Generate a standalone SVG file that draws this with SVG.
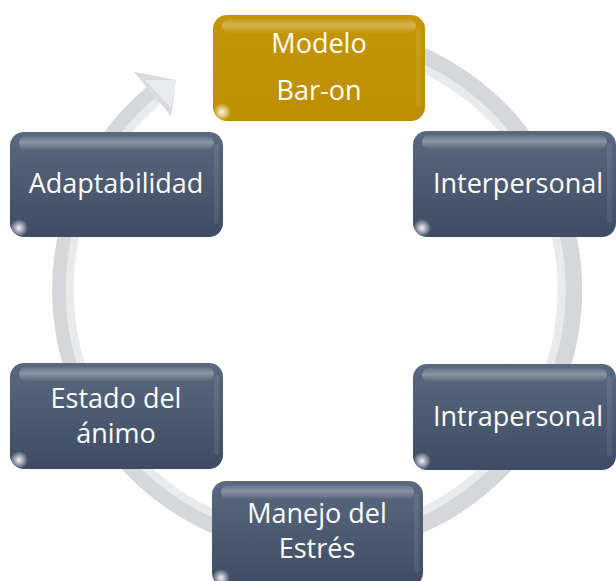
<svg xmlns="http://www.w3.org/2000/svg" width="616" height="581" viewBox="0 0 616 581">
<style>
.lbl{font-family:"Open Sans","Liberation Sans",sans-serif;font-size:27px;fill:#ffffff;text-anchor:middle}
.base{fill:url(#gBlue)}
.gold{fill:url(#gGold)}
.gloss{fill:url(#gGloss)}
.edge{fill:#ffffff;opacity:0.08}
.shine{fill:url(#gShine)}
.ring{fill:none;stroke:#d6d7da;stroke-width:20}
.ringhi{fill:none;stroke:#e9eaec;stroke-width:8}
</style>
<defs>
<linearGradient id="gBlue" x1="0" y1="0" x2="0" y2="1">
<stop offset="0" stop-color="#5a697f"/>
<stop offset="1" stop-color="#3d4c64"/>
</linearGradient>
<linearGradient id="gGold" x1="0" y1="0" x2="0" y2="1">
<stop offset="0" stop-color="#c59506"/>
<stop offset="1" stop-color="#bd8f00"/>
</linearGradient>
<linearGradient id="gGloss" x1="0" y1="0" x2="0" y2="1">
<stop offset="0" stop-color="#ffffff" stop-opacity="0.06"/>
<stop offset="0.45" stop-color="#ffffff" stop-opacity="0.30"/>
<stop offset="1" stop-color="#ffffff" stop-opacity="0.03"/>
</linearGradient>
<radialGradient id="gShine" cx="0.5" cy="0.5" r="0.5">
<stop offset="0" stop-color="#ffffff" stop-opacity="0.95"/>
<stop offset="1" stop-color="#ffffff" stop-opacity="0"/>
</radialGradient>
</defs>
<g id="connectors">
<path class="ring" d="M339.2 35.9 A255 255 0 1 1 153.1 94.7"/>
<path class="ringhi" d="M339.2 44.9 A246 246 0 1 1 157.2 101.6"/>
<polygon points="133.8,71.7 176,80 171.1,116.1" fill="#d9dade"/>
<polygon points="145,80 176,80 171,108" fill="#eaebed"/>
</g>
<g id="node-modelo">
<rect class="gold" x="213" y="15" width="212" height="106" rx="14"/>
<rect class="gloss" x="222" y="19" width="194" height="14" rx="7"/>
<rect class="edge" x="416" y="27" width="5" height="80" rx="2.5"/>
<ellipse class="shine" cx="222" cy="112" rx="9" ry="9"/>
<text class="lbl" x="319" y="53">Modelo</text>
<text class="lbl" x="319" y="100">Bar-on</text>
</g>
<g id="node-interpersonal">
<rect class="base" x="413" y="131" width="203" height="106" rx="14"/>
<rect class="gloss" x="422" y="135" width="185" height="14" rx="7"/>
<rect class="edge" x="607" y="143" width="5" height="80" rx="2.5"/>
<ellipse class="shine" cx="422" cy="228" rx="9" ry="9"/>
<text class="lbl" x="518" y="193">Interpersonal</text>
</g>
<g id="node-intrapersonal">
<rect class="base" x="413" y="364" width="203" height="106" rx="14"/>
<rect class="gloss" x="422" y="368" width="185" height="14" rx="7"/>
<rect class="edge" x="607" y="376" width="5" height="80" rx="2.5"/>
<ellipse class="shine" cx="422" cy="461" rx="9" ry="9"/>
<text class="lbl" x="518" y="426">Intrapersonal</text>
</g>
<g id="node-manejo">
<rect class="base" x="212" y="481" width="211" height="106" rx="14"/>
<rect class="gloss" x="221" y="485" width="193" height="14" rx="7"/>
<rect class="edge" x="414" y="493" width="5" height="80" rx="2.5"/>
<ellipse class="shine" cx="221" cy="578" rx="9" ry="9"/>
<text class="lbl" x="317" y="523">Manejo del</text>
<text class="lbl" x="317" y="558">Estrés</text>
</g>
<g id="node-estado">
<rect class="base" x="10" y="363" width="213" height="106" rx="14"/>
<rect class="gloss" x="19" y="367" width="195" height="14" rx="7"/>
<rect class="edge" x="214" y="375" width="5" height="80" rx="2.5"/>
<ellipse class="shine" cx="19" cy="460" rx="9" ry="9"/>
<text class="lbl" x="116" y="408">Estado del</text>
<text class="lbl" x="116" y="443">ánimo</text>
</g>
<g id="node-adaptabilidad">
<rect class="base" x="10" y="132" width="213" height="105" rx="14"/>
<rect class="gloss" x="19" y="136" width="195" height="14" rx="7"/>
<rect class="edge" x="214" y="144" width="5" height="80" rx="2.5"/>
<ellipse class="shine" cx="19" cy="228" rx="9" ry="9"/>
<text class="lbl" x="116" y="193">Adaptabilidad</text>
</g>
</svg>
